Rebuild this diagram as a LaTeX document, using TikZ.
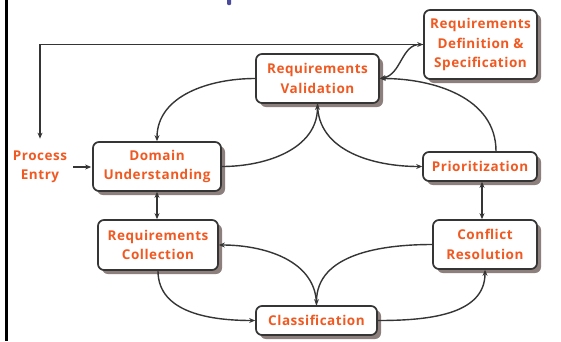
\documentclass[tikz,border=0pt]{standalone}
\usepackage{fontspec}
\setmainfont{Open Sans}[LetterSpace=4]
\usetikzlibrary{arrows.meta,shadows,calc}

\definecolor{labelc}{HTML}{F05A22}
\definecolor{edgec}{HTML}{353535}
\definecolor{shadowc}{HTML}{8C7F7C}
\definecolor{dotc}{HTML}{4B4B9B}

\tikzset{
  lbl/.style={text=labelc, font=\bfseries\fontsize{13.5}{19.5}\selectfont, align=center},
  stage/.style={lbl, draw=edgec, line width=1.7pt, fill=white, rounded corners=6pt,
    inner sep=1pt,
    drop shadow={shadow xshift=4pt, shadow yshift=-4pt, fill=shadowc, opacity=1}},
  plain/.style={lbl, inner sep=2pt},
  link/.style={draw=edgec, line width=1.4pt, -{Stealth[length=6pt,width=5pt]}},
  blink/.style={draw=edgec, line width=1.4pt, {Stealth[length=6pt,width=5pt]}-{Stealth[length=6pt,width=5pt]}}
}

\begin{document}
\begin{tikzpicture}[x=1pt,y=1pt]
  \useasboundingbox (0,0) rectangle (561,-341);
  \fill[white] (0,0) rectangle (561,-341);

  % frame edge and clipped title mark
  \fill[black] (5,0) rectangle (7.5,-341);
  \fill[dotc, rounded corners=1pt] (227,1) rectangle (231,-5);

  % process stages
  \node[stage, minimum width=113pt, minimum height=69pt] (rds) at (480.5,-44.5)
    {Requirements\\Definition \&\\Specification};
  \node[stage, minimum width=123pt, minimum height=49pt] (val) at (317.5,-78.5)
    {Requirements\\Validation};
  \node[plain] (pe) at (40,-167) {Process\\Entry};
  \node[stage, minimum width=128pt, minimum height=49pt] (dom) at (157,-166.5)
    {Domain\\Understanding};
  \node[stage, minimum width=114pt, minimum height=29pt] (pri) at (480,-166.5)
    {Prioritization};
  \node[stage, minimum width=120pt, minimum height=50pt] (col) at (158,-245)
    {Requirements\\Collection};
  \node[stage, minimum width=104pt, minimum height=49pt] (con) at (485,-244.5)
    {Conflict\\Resolution};
  \node[stage, minimum width=121pt, minimum height=29pt] (cls) at (316.5,-320.5)
    {Classification};

  % connectors
  \draw[link, shorten >=10pt] (rds.west) -| (pe.north);
  \draw[blink] (val.east) to[out=10,in=180] (rds.west);
  \draw[link, shorten <=4pt, shorten >=1pt] (pe.east) -- (dom.west |- pe.east);
  \draw[link] (val.west) to[out=180,in=90] (dom.north);
  \draw[link] (dom.east) to[out=0,in=-90] (val.south);
  \draw[link] (val.south) to[out=-90,in=180] (pri.west);
  \draw[link] ([xshift=16pt]pri.north) to[out=90,in=0] (val.east);
  \draw[blink] (dom.south) -- (dom.south |- col.north);
  \draw[blink] ([xshift=2pt]pri.south) -- ([xshift=2pt]pri.south |- con.north);
  \draw[link] (col.south) to[out=-90,in=180] (cls.west);
  \draw[link] (cls.north) to[out=90,in=0] (col.east);
  \draw[link] (con.west) to[out=180,in=90] (cls.north);
  \draw[link] (cls.east) to[out=0,in=-90] (con.south);
\end{tikzpicture}
\end{document}
